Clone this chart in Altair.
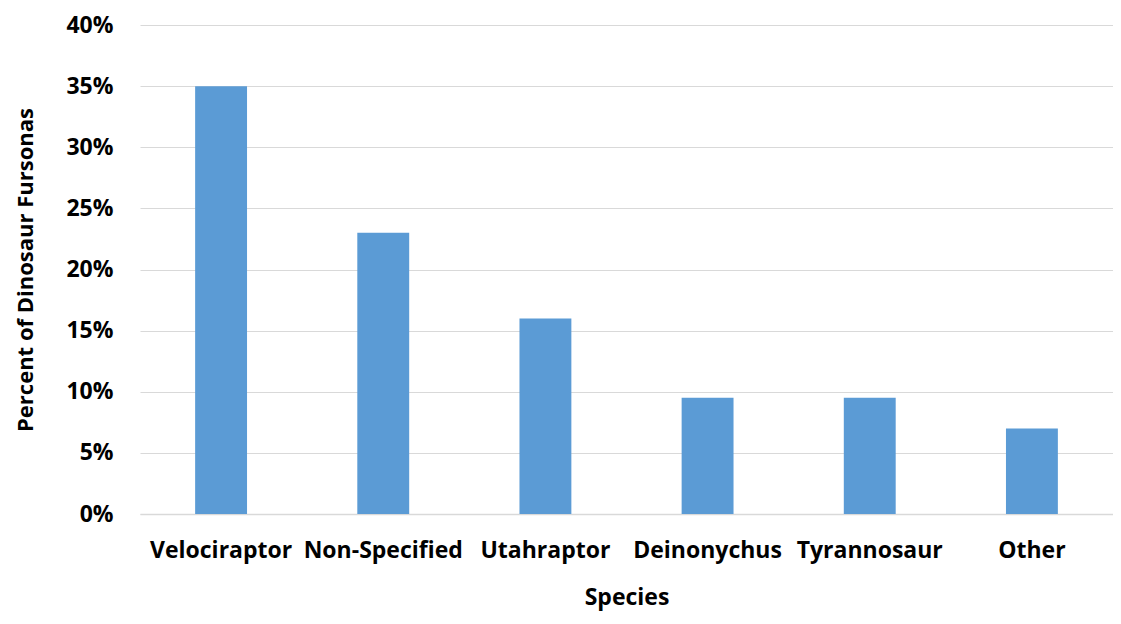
import altair as alt
import pandas as pd

species = ["Velociraptor", "Non-Specified", "Utahraptor", "Deinonychus", "Tyrannosaur", "Other"]
percent = [0.35, 0.23, 0.16, 0.095, 0.095, 0.07]

df = pd.DataFrame({"Species": species, "Percent": percent})

FONT = "Open Sans"

chart = alt.Chart(df).mark_bar(color="#5B9BD5").encode(
    x=alt.X("Species:N", sort=species,
            scale=alt.Scale(paddingInner=0.68, paddingOuter=0.34),
            axis=alt.Axis(title="Species", labelAngle=0, labelFontSize=23,
                          labelFontWeight="bold", labelColor="#000000",
                          labelPadding=25, titleFontSize=23, titleFontWeight="bold",
                          titleColor="#000000", titlePadding=24, ticks=False,
                          domainColor="#d9d9d9", domainWidth=1.5,
                          labelFont=FONT, titleFont=FONT)),
    y=alt.Y("Percent:Q", scale=alt.Scale(domain=[0, 0.4]),
            axis=alt.Axis(title="Percent of Dinosaur Fursonas", format=".0%",
                          values=[0, 0.05, 0.1, 0.15, 0.2, 0.25, 0.3, 0.35, 0.4],
                          labelFontSize=23, labelFontWeight="bold", labelColor="#000000",
                          labelPadding=27, titleFontSize=22, titleFontWeight="bold",
                          titleColor="#000000", titlePadding=28, ticks=False, domain=False,
                          gridColor="#d9d9d9", gridWidth=1.2,
                          labelFont=FONT, titleFont=FONT)),
).properties(
    width=973, height=489,
    autosize=alt.AutoSizeParams(type="none"),
    padding={"left": 132, "top": 17, "right": 0, "bottom": 102},
).configure_view(stroke=None)

chart.save("out.html", embed_options={"renderer": "svg", "actions": False})
